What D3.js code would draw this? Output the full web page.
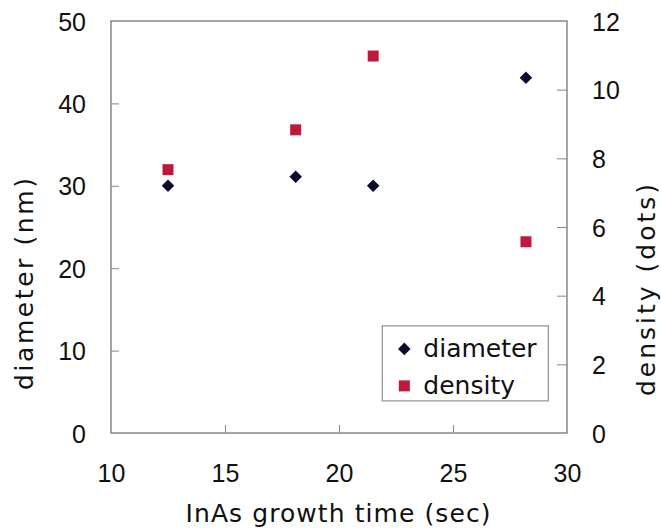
<!DOCTYPE html>
<html>
<head>
<meta charset="utf-8">
<script src="https://cdn.jsdelivr.net/npm/d3@7"></script>
<style>
  body { margin: 0; background: #fff; }
  svg { display: block; }
  .tick text { font-family: "Liberation Sans", Arial, sans-serif; font-size: 25px; fill: #111; }
  .label { font-family: "DejaVu Sans", sans-serif; font-size: 25px; fill: #111; }
  .legend-label { font-family: "DejaVu Sans", sans-serif; font-size: 25px; fill: #111; }
</style>
</head>
<body>
<svg id="chart" width="661" height="528"></svg>
<script>
const growthTime = [12.5, 18.1, 21.5, 28.2];
const diameter = [30, 31.1, 30, 43.1];
const density = [7.67, 8.83, 10.98, 5.57];
const xTicks = [10, 15, 20, 25, 30];
const yLeftTicks = [0, 10, 20, 30, 40, 50];
const yRightTicks = [0, 2, 4, 6, 8, 10, 12];

const DiameterColor = '#0b0b2e';
const DensityColor = '#c0173d';

const margin = { top: 21, right: 94, bottom: 95, left: 111 };
const svg = d3.select('#chart');
const width = +svg.attr('width') - margin.left - margin.right;
const height = +svg.attr('height') - margin.top - margin.bottom;

const x = d3.scaleLinear().domain([10, 30]).range([0, width]);
const yLeft = d3.scaleLinear().domain([0, 50]).range([height, 0]);
const yRight = d3.scaleLinear().domain([0, 12]).range([height, 0]);

const g = svg.append('g')
  .attr('transform', `translate(${margin.left},${margin.top})`);

// frame
g.append('rect')
  .attr('width', width)
  .attr('height', height)
  .attr('fill', 'none')
  .attr('stroke', '#777')
  .attr('stroke-width', 1.3);

const styleAxis = sel => {
  sel.select('.domain').remove();
  sel.selectAll('.tick line').attr('stroke', '#888');
};

g.append('g')
  .attr('class', 'x axis')
  .attr('transform', `translate(0,${height})`)
  .call(d3.axisBottom(x).tickValues(xTicks).tickSizeInner(-8).tickSizeOuter(0).tickPadding(31))
  .call(styleAxis)
  .call(sel => sel.selectAll('.tick line').filter(d => d === 10 || d === 30).remove());

g.append('g')
  .attr('class', 'y axis')
  .call(d3.axisLeft(yLeft).tickValues(yLeftTicks).tickSizeInner(-8).tickSizeOuter(0).tickPadding(25))
  .call(styleAxis)
  .call(sel => sel.selectAll('.tick line').filter(d => d === 0 || d === 50).remove());

g.append('g')
  .attr('class', 'y axis')
  .attr('transform', `translate(${width},0)`)
  .call(d3.axisRight(yRight).tickValues(yRightTicks).tickSizeInner(-10).tickSizeOuter(0).tickPadding(25))
  .call(styleAxis)
  .call(sel => sel.selectAll('.tick line').filter(d => d === 0 || d === 12).remove());

g.selectAll('.y.axis .tick text').attr('dy', '0.36em');
g.selectAll('.x.axis .tick text').attr('dy', '0.71em');

// points
const diamond = d3.symbol().type(d3.symbolDiamond2).size(100);
const square = d3.symbol().type(d3.symbolSquare).size(121);

g.selectAll('.diameter')
  .data(growthTime)
  .enter().append('path')
  .attr('class', 'diameter')
  .attr('d', diamond)
  .attr('fill', DiameterColor)
  .attr('transform', (d, i) => `translate(${x(d)},${yLeft(diameter[i])})`);

g.selectAll('.density')
  .data(growthTime)
  .enter().append('path')
  .attr('class', 'density')
  .attr('d', square)
  .attr('fill', DensityColor)
  .attr('transform', (d, i) => `translate(${x(d)},${yRight(density[i])})`);

// legend
const legend = g.append('g')
  .attr('transform', `translate(${x(21.9)},${yLeft(13.0)})`);
legend.append('rect')
  .attr('width', 166)
  .attr('height', 75)
  .attr('fill', '#fff')
  .attr('stroke', '#999')
  .attr('stroke-width', 1.3);
const legendItems = [
  { name: 'diameter', color: DiameterColor, symbol: diamond },
  { name: 'density', color: DensityColor, symbol: square }
];
legendItems.forEach((item, i) => {
  const row = legend.append('g').attr('transform', `translate(22,${23 + i * 37})`);
  row.append('path').attr('d', item.symbol).attr('fill', item.color);
  row.append('text')
    .attr('class', 'legend-label')
    .attr('x', 19)
    .attr('dy', '0.33em')
    .text(item.name);
});

// axis titles (stretched to the spans seen in the original)
svg.append('text')
  .attr('class', 'label')
  .attr('text-anchor', 'middle')
  .attr('x', 338)
  .attr('y', 522)
  .attr('textLength', 305)
  .attr('lengthAdjust', 'spacing')
  .text('InAs growth time (sec)');

svg.append('text')
  .attr('class', 'label')
  .attr('text-anchor', 'middle')
  .attr('transform', `translate(33,284) rotate(-90)`)
  .attr('textLength', 212)
  .attr('lengthAdjust', 'spacing')
  .text('diameter (nm)');

svg.append('text')
  .attr('class', 'label')
  .attr('text-anchor', 'middle')
  .attr('transform', `translate(655,290) rotate(-90)`)
  .attr('textLength', 212)
  .attr('lengthAdjust', 'spacing')
  .text('density (dots)');
</script>
</body>
</html>
